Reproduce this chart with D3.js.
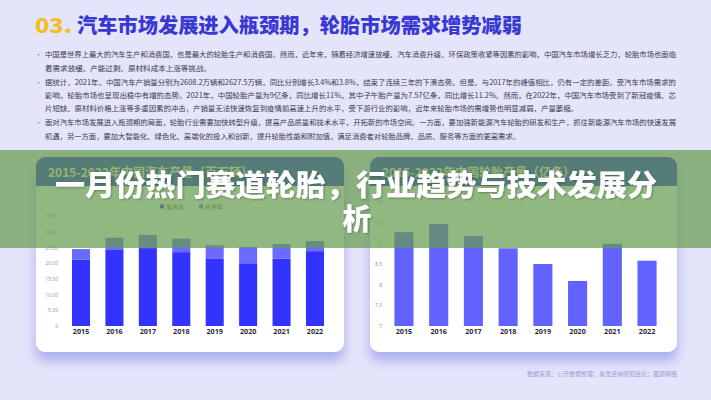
<!DOCTYPE html>
<html><head><meta charset="utf-8">
<script src="https://cdn.jsdelivr.net/npm/d3@7"></script>
<style>
html,body{margin:0;padding:0;background:#e4e4fb;}
svg{display:block;font-family:"Noto Sans CJK SC","Noto Sans",sans-serif;}
</style></head>
<body><svg id="c" width="711" height="400"></svg>
<script>
// ---- data ----
const years = ["2015","2016","2017","2018","2019","2020","2021","2022"];
const passengerCars = [21.08, 24.42, 24.81, 23.53, 21.36, 19.99, 21.41, 23.84];
const commercialCars = [3.42, 3.70, 4.21, 4.28, 4.36, 5.23, 4.67, 3.19];
const tireOutput = [9.27, 9.47, 9.18, 8.88, 8.50, 8.09, 8.99, 8.58];
const leftTicks = [0, 5, 10, 15, 20, 25, 30, 35];
const rightTicks = [7, 7.5, 8, 8.5, 9, 9.5, 10];
const seriesNames = ["乘用车", "商用车"];
const slideTitleNum = "03.";
const slideTitle = "汽车市场发展进入瓶颈期，轮胎市场需求增势减弱";
const paragraphLines = [
  "中国是世界上最大的汽车生产和消费国，也是最大的轮胎生产和消费国。然而，近年来，随着经济增速放缓、汽车消费升级、环保政策收紧等因素的影响，中国汽车市场增长乏力，轮胎市场也面临",
  "着需求放缓、产能过剩、原材料成本上涨等挑战。",
  "据统计，2021年，中国汽车产销量分别为2608.2万辆和2627.5万辆，同比分别增长3.4%和3.8%，结束了连续三年的下滑态势。但是，与2017年的峰值相比，仍有一定的差距。受汽车市场需求的",
  "影响，轮胎市场也呈现出稳中有增的态势。2021年，中国轮胎产量为9亿条，同比增长11%，其中子午胎产量为7.57亿条，同比增长11.2%。然而，在2022年，中国汽车市场受到了新冠疫情、芯",
  "片短缺、原材料价格上涨等多重因素的冲击，产销量无法快速恢复到疫情前高速上升的水平，受下游行业的影响，近年来轮胎市场的需增势也明显减弱，产量萎缩。",
  "面对汽车市场发展进入瓶颈期的局面，轮胎行业需要加快转型升级，提高产品质量和技术水平，开拓新的市场空间。一方面，要加强新能源汽车轮胎的研发和生产，抓住新能源汽车市场的快速发展",
  "机遇，另一方面，要加大智能化、绿色化、高端化的投入和创新，提升轮胎性能和附加值，满足消费者对轮胎品牌、品质、服务等方面的更高需求。"
];
const bulletStarts = [0, 2, 5];
const leftCardTitle = "2015-2022年中国汽车产量（百万辆）";
const rightCardTitle = "2015-2022年中国轮胎产量（亿条）";
const sourceNote = "数据来源：公开数据整理；某世咨询研究结论；图源网络";
const overlayTitle = ["一月份热门赛道轮胎，行业趋势与技术发展分", "析"];

// ---- drawing ----
const svg = d3.select("#c");
const defs = svg.append("defs");
const f = defs.append("filter").attr("id","sh").attr("x","-20%").attr("y","-20%").attr("width","140%").attr("height","150%");
f.append("feDropShadow").attr("dx",0).attr("dy",9).attr("stdDeviation",6).attr("flood-color","#a4a8ea").attr("flood-opacity",0.9);
const tf = defs.append("filter").attr("id","tsh").attr("x","-5%").attr("y","-20%").attr("width","110%").attr("height","140%");
tf.append("feDropShadow").attr("dx",1).attr("dy",1).attr("stdDeviation",1.2).attr("flood-color","#2f4a2a").attr("flood-opacity",0.45);

svg.append("rect").attr("width",711).attr("height",400).attr("fill","#e4e4fb");

// title
svg.append("text").attr("x",35).attr("y",32.5).attr("font-size",20).attr("font-weight",900)
  .attr("fill","#f5be22").attr("textLength",37).attr("lengthAdjust","spacingAndGlyphs").text(slideTitleNum);
svg.append("text").attr("x",77).attr("y",32.5).attr("font-size",20).attr("font-weight",900)
  .attr("fill","#3838d2").attr("textLength",445).attr("lengthAdjust","spacingAndGlyphs").text(slideTitle);

// paragraphs
const lineY = [57, 70.5, 84.5, 98, 111, 125, 138.5];
const lineEnd = [676, 211, 676, 676, 578, 676, 520];
paragraphLines.forEach((s,i)=>{
  svg.append("text").attr("x",45).attr("y",lineY[i]).attr("font-size",7)
    .attr("fill","#3a3a4a").attr("textLength",lineEnd[i]-45).attr("lengthAdjust","spacingAndGlyphs").text(s);
  if (bulletStarts.includes(i)) svg.append("text").attr("x",35).attr("y",lineY[i]).attr("font-size",7).attr("fill","#777").text("•");
});

// cards
function card(x0,x1,title){
  const y0=157,y1=352;
  svg.append("rect").attr("x",x0).attr("y",y0).attr("width",x1-x0).attr("height",y1-y0).attr("rx",9)
    .attr("fill","#fff").attr("filter","url(#sh)");
  const cp = "c"+x0;
  defs.append("clipPath").attr("id",cp).append("rect").attr("x",x0).attr("y",y0).attr("width",x1-x0).attr("height",y1-y0).attr("rx",9);
  svg.append("rect").attr("x",x0).attr("y",y0).attr("width",x1-x0).attr("height",29).attr("fill","#2e30dc").attr("clip-path",`url(#${cp})`);
  svg.append("text").attr("x",x0+12).attr("y",y0+20).attr("font-size",12).attr("font-weight",700).attr("fill","#fff1c2").text(title);
}
card(36,344,leftCardTitle);
card(370,677,rightCardTitle);

// left chart
const xL = d3.scaleBand().domain(years).range([64.3,331.7]).paddingInner(0.46).paddingOuter(0.23);
const yL = d3.scaleLinear().domain([0,35]).range([326,216.1]);
const colL = ["#3333ff","#6b6bff"];
const stackData = years.map((y,i)=>({year:y, p:passengerCars[i], c:commercialCars[i]}));
const stacked = d3.stack().keys(["p","c"])(stackData);
const gL = svg.append("g");
stacked.forEach((layer,k)=>{
  gL.selectAll(null).data(layer).join("rect")
    .attr("x",d=>xL(d.data.year)).attr("width",xL.bandwidth())
    .attr("y",d=>yL(d[1])).attr("height",d=>yL(d[0])-yL(d[1])).attr("fill",colL[k]);
});
const axL = svg.append("g").attr("transform","translate(58,0)")
  .call(d3.axisLeft(yL).tickValues(leftTicks).tickSize(0).tickPadding(0).tickFormat(v=>v===0?"0":v.toFixed(2)));
axL.select(".domain").remove();
axL.selectAll("text").attr("font-size",5).attr("fill","#9a9aa8").attr("font-family","Noto Sans");
const axLx = svg.append("g").attr("transform","translate(0,329)").call(d3.axisBottom(xL).tickSize(0).tickPadding(0));
axLx.select(".domain").remove();
axLx.selectAll("text").attr("font-size",7.2).attr("font-weight",700).attr("fill","#2c2c3a").attr("dy","0.75em").attr("font-family","Noto Sans");
// legend
seriesNames.forEach((n,i)=>{
  const lx = 160 + i*39;
  svg.append("rect").attr("x",lx).attr("y",204.5).attr("width",4).attr("height",4).attr("fill",colL[i]);
  svg.append("text").attr("x",lx+6).attr("y",208.8).attr("font-size",6).attr("fill","#666").text(n);
});

// right chart
const xR = d3.scaleBand().domain(years).range([386.6,664.4]).paddingInner(0.45).paddingOuter(0.225);
const yR = d3.scaleLinear().domain([7,10]).range([326,202]);
svg.append("g").selectAll("rect").data(tireOutput).join("rect")
  .attr("x",(d,i)=>xR(years[i])).attr("width",xR.bandwidth())
  .attr("y",d=>yR(d)).attr("height",d=>yR(7)-yR(d)).attr("fill","#6262ff");
const axR = svg.append("g").attr("transform","translate(382,0)")
  .call(d3.axisLeft(yR).tickValues(rightTicks).tickSize(0).tickPadding(0).tickFormat(d3.format("~g")));
axR.select(".domain").remove();
axR.selectAll("text").attr("font-size",5).attr("fill","#9a9aa8").attr("font-family","Noto Sans");
const axRx = svg.append("g").attr("transform","translate(0,329)").call(d3.axisBottom(xR).tickSize(0).tickPadding(0));
axRx.select(".domain").remove();
axRx.selectAll("text").attr("font-size",7.2).attr("font-weight",700).attr("fill","#2c2c3a").attr("dy","0.75em").attr("font-family","Noto Sans");

// source note
svg.append("text").attr("x",677).attr("y",376).attr("text-anchor","end").attr("font-size",6).attr("fill","#9c9ad2").text(sourceNote);

// green overlay banner
svg.append("rect").attr("x",0).attr("y",150).attr("width",711).attr("height",98).attr("fill","#659b4d").attr("opacity",0.71);
svg.append("text").attr("x",55).attr("y",196).attr("font-size",29).attr("font-weight",900).attr("fill","#fff")
  .attr("textLength",602).attr("lengthAdjust","spacingAndGlyphs").attr("filter","url(#tsh)").text(overlayTitle[0]);
svg.append("text").attr("x",357).attr("y",230).attr("text-anchor","middle").attr("font-size",29).attr("font-weight",900).attr("fill","#fff")
  .attr("filter","url(#tsh)").text(overlayTitle[1]);
</script></body></html>
